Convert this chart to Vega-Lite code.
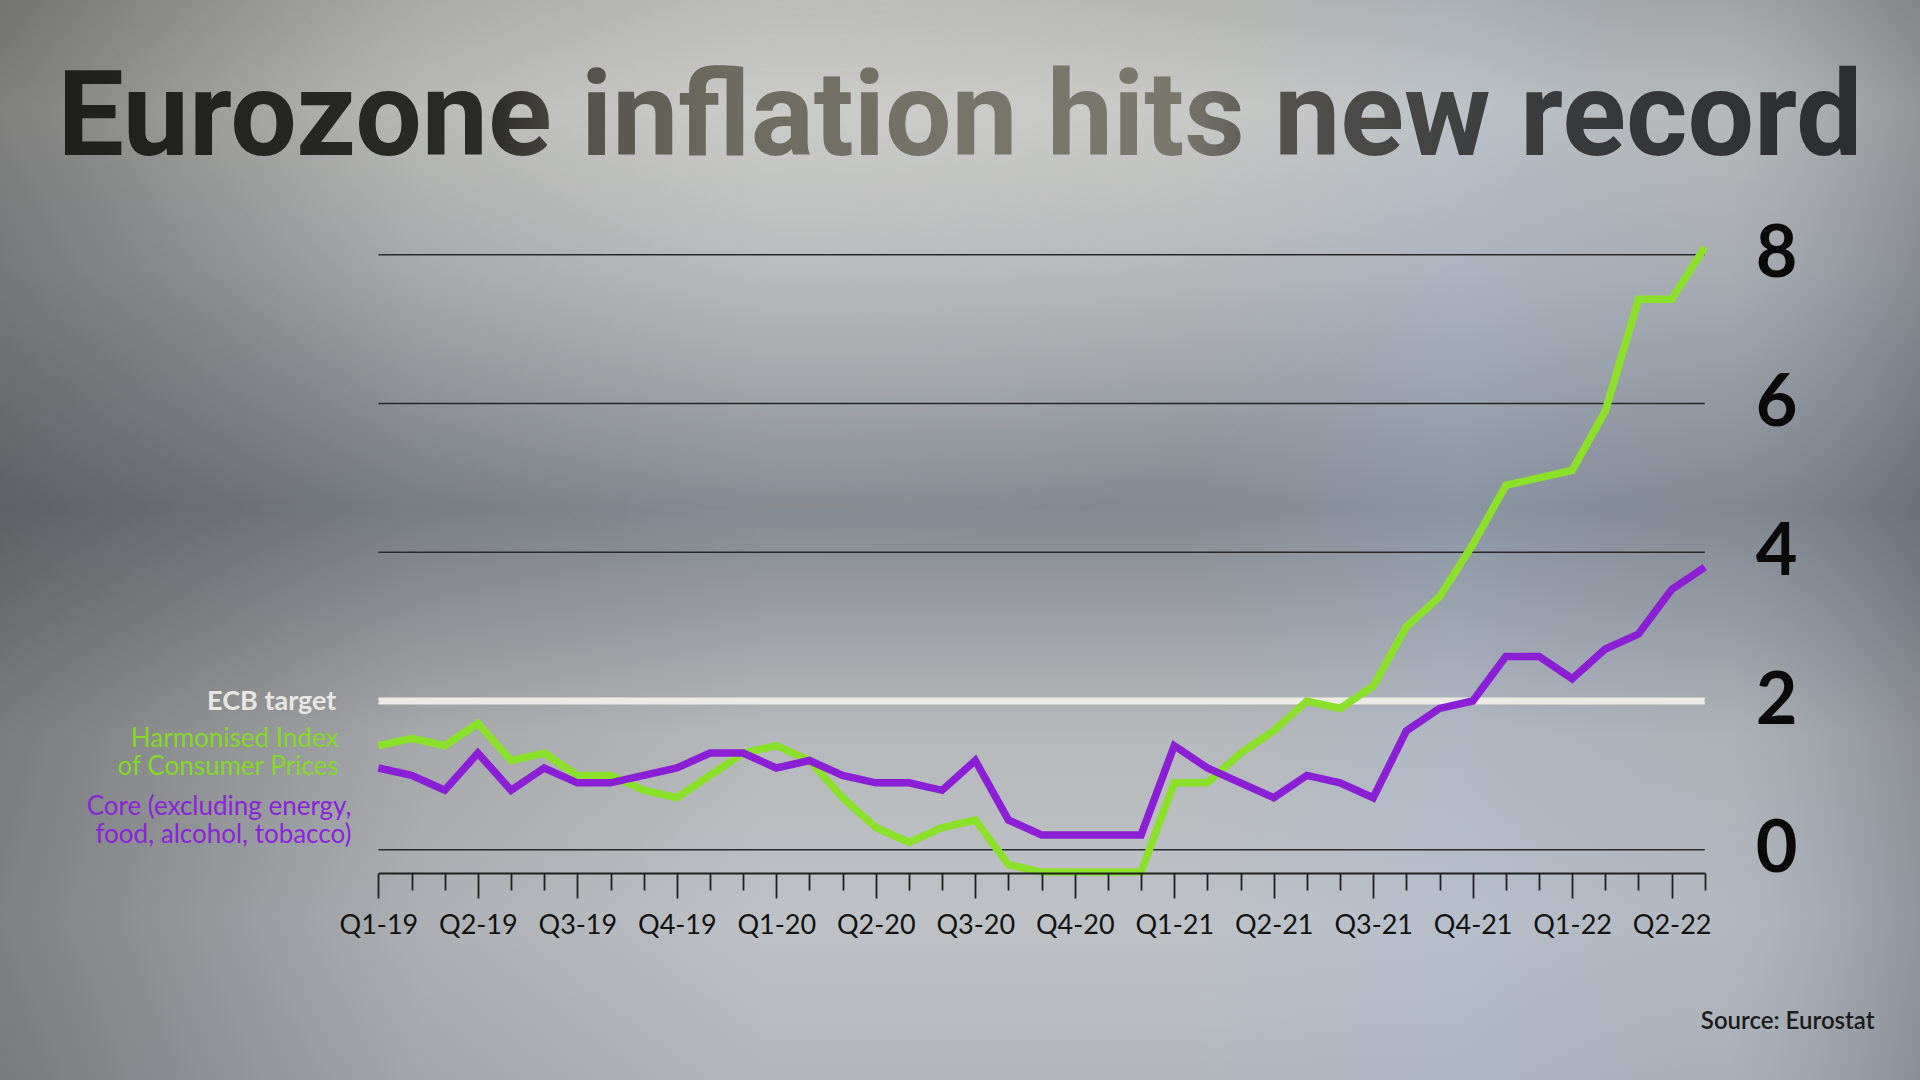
{
  "$schema": "https://vega.github.io/schema/vega-lite/v6.json",
  "width": 1920,
  "height": 1080,
  "autosize": "none",
  "padding": 0,
  "background": "#aeb1b3",
  "title": {
    "text": "Eurozone inflation hits new record",
    "font": "Roboto",
    "fontSize": 118,
    "fontWeight": "bold",
    "anchor": "middle",
    "frame": "group",
    "orient": "top",
    "offset": -273,
    "baseline": "alphabetic",
    "color": {"value": {"gradient": "linear", "x1": 0, "y1": 0, "x2": 1, "y2": 0, "stops": [
      {"offset": 0, "color": "#1f1f1d"},
      {"offset": 0.24, "color": "#2b2b28"},
      {"offset": 0.29, "color": "#52504a"},
      {"offset": 0.36, "color": "#6c695e"},
      {"offset": 0.5, "color": "#77746a"},
      {"offset": 0.62, "color": "#7a776d"},
      {"offset": 0.68, "color": "#52514c"},
      {"offset": 0.8, "color": "#3c3d3f"},
      {"offset": 1, "color": "#2b2d31"}
    ]}}
  },
  "config": {"view": {"stroke": null}, "axis": {"grid": false}},
  "datasets": {
    "canvas": [{}],
    "grid": [{"v": 0}, {"v": 2}, {"v": 4}, {"v": 6}, {"v": 8}],
    "ecb": [{"label": "ECB target", "target": 2, "from": "2019-01", "to": "2022-05"}],
    "inflation": [
      {"month": "2019-01", "hicp": 1.4, "core": 1.1},
      {"month": "2019-02", "hicp": 1.5, "core": 1.0},
      {"month": "2019-03", "hicp": 1.4, "core": 0.8},
      {"month": "2019-04", "hicp": 1.7, "core": 1.3},
      {"month": "2019-05", "hicp": 1.2, "core": 0.8},
      {"month": "2019-06", "hicp": 1.3, "core": 1.1},
      {"month": "2019-07", "hicp": 1.0, "core": 0.9},
      {"month": "2019-08", "hicp": 1.0, "core": 0.9},
      {"month": "2019-09", "hicp": 0.8, "core": 1.0},
      {"month": "2019-10", "hicp": 0.7, "core": 1.1},
      {"month": "2019-11", "hicp": 1.0, "core": 1.3},
      {"month": "2019-12", "hicp": 1.3, "core": 1.3},
      {"month": "2020-01", "hicp": 1.4, "core": 1.1},
      {"month": "2020-02", "hicp": 1.2, "core": 1.2},
      {"month": "2020-03", "hicp": 0.7, "core": 1.0},
      {"month": "2020-04", "hicp": 0.3, "core": 0.9},
      {"month": "2020-05", "hicp": 0.1, "core": 0.9},
      {"month": "2020-06", "hicp": 0.3, "core": 0.8},
      {"month": "2020-07", "hicp": 0.4, "core": 1.2},
      {"month": "2020-08", "hicp": -0.2, "core": 0.4},
      {"month": "2020-09", "hicp": -0.3, "core": 0.2},
      {"month": "2020-10", "hicp": -0.3, "core": 0.2},
      {"month": "2020-11", "hicp": -0.3, "core": 0.2},
      {"month": "2020-12", "hicp": -0.3, "core": 0.2},
      {"month": "2021-01", "hicp": 0.9, "core": 1.4},
      {"month": "2021-02", "hicp": 0.9, "core": 1.1},
      {"month": "2021-03", "hicp": 1.3, "core": 0.9},
      {"month": "2021-04", "hicp": 1.6, "core": 0.7},
      {"month": "2021-05", "hicp": 2.0, "core": 1.0},
      {"month": "2021-06", "hicp": 1.9, "core": 0.9},
      {"month": "2021-07", "hicp": 2.2, "core": 0.7},
      {"month": "2021-08", "hicp": 3.0, "core": 1.6},
      {"month": "2021-09", "hicp": 3.4, "core": 1.9},
      {"month": "2021-10", "hicp": 4.1, "core": 2.0},
      {"month": "2021-11", "hicp": 4.9, "core": 2.6},
      {"month": "2021-12", "hicp": 5.0, "core": 2.6},
      {"month": "2022-01", "hicp": 5.1, "core": 2.3},
      {"month": "2022-02", "hicp": 5.9, "core": 2.7},
      {"month": "2022-03", "hicp": 7.4, "core": 2.9},
      {"month": "2022-04", "hicp": 7.4, "core": 3.5},
      {"month": "2022-05", "hicp": 8.1, "core": 3.8}
    ]
  },
  "layer": [
    {
      "data": {"name": "canvas"},
      "mark": {"type": "rect", "stroke": null, "fill": {"gradient": "linear", "x1": 0, "y1": 0, "x2": 0, "y2": 1, "stops": [
        {"offset": 0, "color": "#a8a9a6"},
        {"offset": 0.1, "color": "#c2c3c0"},
        {"offset": 0.25, "color": "#b0b3b6"},
        {"offset": 0.38, "color": "#969ba1"},
        {"offset": 0.47, "color": "#838990"},
        {"offset": 0.56, "color": "#989ca1"},
        {"offset": 0.68, "color": "#b6b9bb"},
        {"offset": 0.85, "color": "#bec2c7"},
        {"offset": 1, "color": "#b3b7bd"}
      ]}}
    },
    {
      "data": {"name": "canvas"},
      "mark": {"type": "rect", "stroke": null, "fill": {"gradient": "linear", "x1": 0, "y1": 0, "x2": 1, "y2": 0, "stops": [
        {"offset": 0, "color": "rgba(45,45,45,0.44)"},
        {"offset": 0.22, "color": "rgba(45,45,45,0.12)"},
        {"offset": 0.4, "color": "rgba(45,45,45,0)"},
        {"offset": 0.62, "color": "rgba(160,180,215,0)"},
        {"offset": 0.76, "color": "rgba(160,182,218,0.25)"},
        {"offset": 0.9, "color": "rgba(120,135,160,0.15)"},
        {"offset": 1, "color": "rgba(60,66,78,0.35)"}
      ]}}
    },
    {
      "data": {"name": "canvas"},
      "mark": {"type": "rect", "stroke": null, "fill": {"gradient": "radial", "x1": 0.42, "y1": 0.06, "r1": 0, "x2": 0.42, "y2": 0.06, "r2": 0.45, "stops": [
        {"offset": 0, "color": "rgba(228,228,222,0.5)"},
        {"offset": 1, "color": "rgba(228,228,222,0)"}
      ]}}
    },
    {
      "data": {"name": "grid"},
      "mark": {"type": "rule", "stroke": "#26282b", "strokeWidth": 1.6},
      "encoding": {
        "x": {"datum": "2019-01", "type": "ordinal"},
        "x2": {"datum": "2022-05"},
        "y": {"field": "v", "type": "quantitative"}
      }
    },
    {
      "data": {"name": "ecb"},
      "mark": {"type": "rule", "stroke": "#ebeae5", "strokeWidth": 7},
      "encoding": {
        "x": {"field": "from", "type": "ordinal"},
        "x2": {"field": "to"},
        "y": {"field": "target", "type": "quantitative"}
      }
    },
    {
      "data": {"name": "inflation"},
      "mark": {"type": "line", "stroke": "#8be02a", "strokeWidth": 7.5, "strokeJoin": "miter"},
      "encoding": {
        "x": {
          "field": "month", "type": "ordinal",
          "scale": {"type": "point", "range": [378.4, 1704.8], "padding": 0},
          "axis": {
            "orient": "bottom", "offset": -207, "zindex": 1, "grid": false,
            "domain": true, "domainColor": "#1f2022", "domainWidth": 2,
            "ticks": true, "tickColor": "#1f2022", "tickWidth": 1.8,
            "tickSize": {"condition": {"test": "(toNumber(substring(datum.value,5,7))-1)%3==0", "value": 25}, "value": 17},
            "labelExpr": "(toNumber(substring(datum.value,5,7))-1)%3==0 ? 'Q' + (floor((toNumber(substring(datum.value,5,7))-1)/3)+1) + '-' + substring(datum.value,2,4) : ''",
            "labelFont": "Lato", "labelFontSize": 27, "labelColor": "#121212",
            "labelAlign": "center",
            "labelPadding": 27, "labelAngle": 0, "labelOverlap": false, "labelFlush": false, "labelBound": false,
            "title": "Source: Eurostat", "titleX": 1874, "titleY": 155, "titleAlign": "right",
            "titleBaseline": "alphabetic", "titleFont": "Lato", "titleFontSize": 24,
            "titleFontWeight": 600, "titleColor": "#1b1b1b"
          }
        },
        "y": {
          "field": "hicp", "type": "quantitative",
          "scale": {"domain": [0, 8], "range": [849.8, 254.7], "nice": false},
          "axis": {
            "orient": "right", "offset": -144, "zindex": 1, "values": [0, 2, 4, 6, 8],
            "format": "d",
            "domain": false, "ticks": false, "tickSize": 0, "grid": false,
            "labelPadding": 0, "labelAlign": "center", "labelBaseline": "middle",
            "labelFont": "Lato", "labelFontSize": 72, "labelFontWeight": "bold", "labelColor": "#0a0a0a",
            "labelBound": false, "labelFlush": false, "labelOverlap": false, "title": null
          }
        }
      }
    },
    {
      "data": {"name": "inflation"},
      "mark": {"type": "line", "stroke": "#8a1fd6", "strokeWidth": 7.5, "strokeJoin": "miter"},
      "encoding": {
        "x": {"field": "month", "type": "ordinal"},
        "y": {"field": "core", "type": "quantitative"}
      }
    },
    {
      "data": {"name": "inflation"},
      "transform": [{"filter": "datum.month == '2019-01'"}],
      "mark": {"type": "text", "text": "Harmonised Index", "align": "right", "baseline": "alphabetic", "dx": -40, "dy": 1, "font": "Lato", "fontSize": 26, "fill": "#84d928"},
      "encoding": {
        "x": {"field": "month", "type": "ordinal"},
        "y": {"field": "hicp", "type": "quantitative"}
      }
    },
    {
      "data": {"name": "inflation"},
      "transform": [{"filter": "datum.month == '2019-01'"}],
      "mark": {"type": "text", "text": "of Consumer Prices", "align": "right", "baseline": "alphabetic", "dx": -40, "dy": 29, "font": "Lato", "fontSize": 26, "fill": "#84d928"},
      "encoding": {
        "x": {"field": "month", "type": "ordinal"},
        "y": {"field": "hicp", "type": "quantitative"}
      }
    },
    {
      "data": {"name": "inflation"},
      "transform": [{"filter": "datum.month == '2019-01'"}],
      "mark": {"type": "text", "text": "Core (excluding energy,", "align": "right", "baseline": "alphabetic", "dx": -27, "dy": 47, "font": "Lato", "fontSize": 26, "fill": "#8a24d8"},
      "encoding": {
        "x": {"field": "month", "type": "ordinal"},
        "y": {"field": "core", "type": "quantitative"}
      }
    },
    {
      "data": {"name": "inflation"},
      "transform": [{"filter": "datum.month == '2019-01'"}],
      "mark": {"type": "text", "text": "food, alcohol, tobacco)", "align": "right", "baseline": "alphabetic", "dx": -27, "dy": 75, "font": "Lato", "fontSize": 26, "fill": "#8a24d8"},
      "encoding": {
        "x": {"field": "month", "type": "ordinal"},
        "y": {"field": "core", "type": "quantitative"}
      }
    },
    {
      "data": {"name": "ecb"},
      "mark": {"type": "text", "align": "right", "baseline": "alphabetic", "dx": -42, "dy": 9, "font": "Lato", "fontSize": 27, "fontWeight": "bold", "fill": "#e8e6e1"},
      "encoding": {
        "x": {"field": "from", "type": "ordinal"},
        "y": {"field": "target", "type": "quantitative"},
        "text": {"field": "label"}
      }
    }
  ]
}
